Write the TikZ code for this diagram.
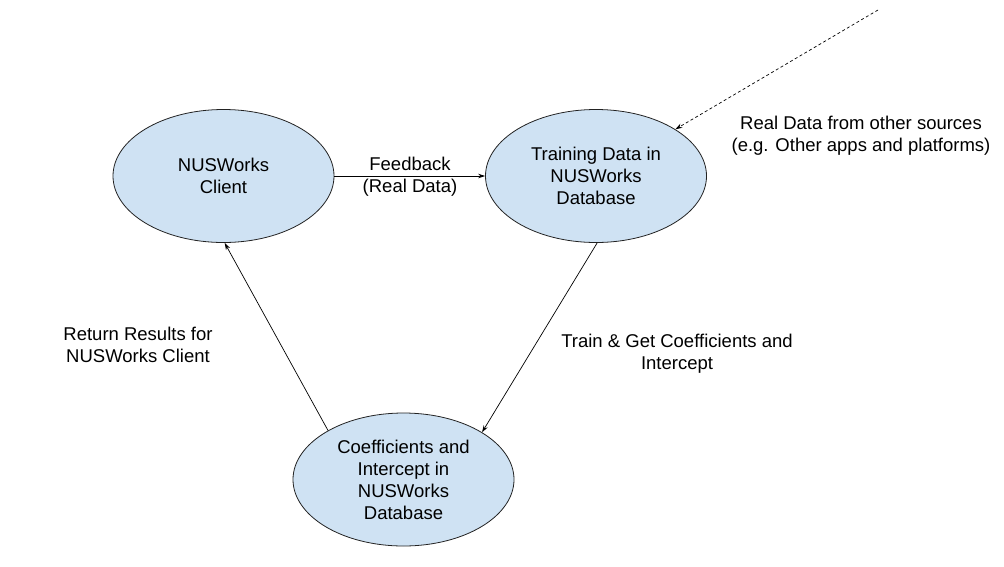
\documentclass[tikz,border=0pt]{standalone}
\usepackage{fontspec}
\setmainfont{Liberation Sans}
\usetikzlibrary{shapes.geometric,arrows.meta}
\definecolor{ellfill}{HTML}{CFE2F3}
\definecolor{ellline}{HTML}{222222}
\tikzset{
  blob/.style={ellipse, draw=ellline, fill=ellfill, line width=0.8pt,
    minimum width=221pt, minimum height=133pt, inner sep=0pt,
    align=center, font=\fontsize{18.5}{22}\selectfont},
  lbl/.style={align=center, font=\fontsize{18.5}{22}\selectfont, inner sep=0pt},
  conn/.style={line width=0.7pt, draw=black, -{Stealth[length=7pt,width=4.5pt]}}
}
\begin{document}
\begin{tikzpicture}[x=1pt,y=-1pt]
\useasboundingbox (0,0) rectangle (1004,566);
\node[blob] (client) at (223.5,176) {NUSWorks\\Client};
\node[blob] (train) at (596,176) {Training Data in\\NUSWorks\\Database};
\node[blob] (coef) at (403.5,479.5) {Coefficients and\\Intercept in\\NUSWorks\\Database};
\coordinate (src) at (878,10);
\draw[conn] (client.east) -- (train.west);
\draw[conn, dashed, dash pattern=on 3pt off 2.5pt] (src) -- (train);
\draw[conn] (train.-89.5) -- (coef.31);
\draw[conn] (coef.147.5) -- (client.-89);
\node[lbl] (fb) at (410,177) {Feedback\\(Real Data)};
\node[lbl] (rd) at (861,136) {Real Data from other sources\\(e.g. Other apps and platforms)};
\node[lbl] (rr) at (138,345) {Return Results for\\NUSWorks Client};
\node[lbl] (tg) at (677,354) {Train \& Get Coefficients and\\Intercept};
\end{tikzpicture}
\end{document}
